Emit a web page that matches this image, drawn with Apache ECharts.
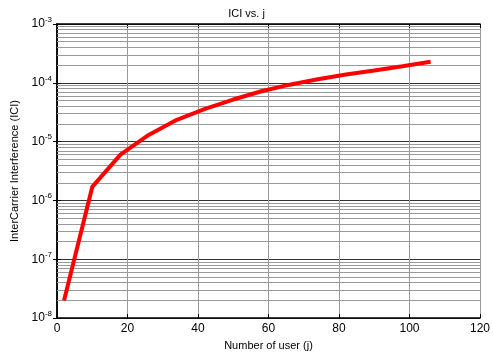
<!DOCTYPE html>
<html>
<head>
<meta charset="utf-8">
<script src="https://cdn.jsdelivr.net/npm/echarts@6/dist/echarts.min.js"></script>
<style>
  html, body { margin: 0; padding: 0; background: #fff; }
  #chart { width: 493px; height: 356px; }
</style>
</head>
<body>
<div id="chart"></div>
<script>
// number of users (j) and the ICI
var users = [2, 10, 18, 26, 34, 42, 50, 58, 66, 74, 82, 90, 98, 106];
var ici = [2e-8, 1.7e-6, 6e-6, 1.3e-5, 2.35e-5, 3.6e-5, 5.2e-5, 7.2e-5, 9.3e-5, 1.15e-4, 1.38e-4, 1.62e-4, 1.92e-4, 2.28e-4];
var xTicks = [0, 20, 40, 60, 80, 100, 120];
var decades = [-8, -7, -6, -5, -4, -3];

var font = 'Liberation Sans, Arial, sans-serif';

// minor grid lines at 2..9 x 10^n
var minorLines = [];
for (var d = 0; d < decades.length - 1; d++) {
  for (var k = 2; k <= 9; k++) {
    var v = k * Math.pow(10, decades[d]);
    minorLines.push([{ coord: [xTicks[0], v] }, { coord: [xTicks[xTicks.length - 1], v] }]);
  }
}

var chart = echarts.init(document.getElementById('chart'));

var option = {
  animation: false,
  backgroundColor: '#fff',
  title: {
    text: 'ICI vs. j',
    left: 'center',
    top: 3,
    textStyle: { fontFamily: font, fontSize: 11, fontWeight: 'normal', color: '#000' }
  },
  grid: { left: 57, right: 8, top: 24, bottom: 35 },
  xAxis: [{
    type: 'value',
    min: xTicks[0],
    max: xTicks[xTicks.length - 1],
    interval: 20,
    name: 'Number of user (j)',
    nameLocation: 'middle',
    nameGap: 18,
    nameTextStyle: { fontFamily: font, fontSize: 11, color: '#000' },
    axisLine: { onZero: false, lineStyle: { color: '#000', width: 1.5 } },
    axisTick: { inside: true, length: 4, lineStyle: { color: '#000' } },
    axisLabel: { fontFamily: font, fontSize: 12, color: '#000', margin: 5 },
    splitLine: { show: true, lineStyle: { color: '#999', width: 1 } }
  }, {
    type: 'value',
    position: 'top',
    min: xTicks[0],
    max: xTicks[xTicks.length - 1],
    interval: 20,
    axisLine: { show: true, lineStyle: { color: '#000', width: 1.5 } },
    axisTick: { inside: true, length: 4, lineStyle: { color: '#000' } },
    axisLabel: { show: false },
    splitLine: { show: false }
  }],
  yAxis: [{
    type: 'log',
    logBase: 10,
    min: Math.pow(10, decades[0]),
    max: Math.pow(10, decades[decades.length - 1]),
    name: 'InterCarrier Interference (ICI)',
    nameLocation: 'middle',
    nameGap: 25,
    nameTextStyle: { fontFamily: font, fontSize: 11, color: '#000' },
    axisLine: { lineStyle: { color: '#000', width: 1.5 } },
    axisTick: { inside: true, length: 4, lineStyle: { color: '#000' } },
    axisLabel: {
      margin: 5,
      formatter: function (v) {
        return '{b|10}{s|' + Math.round(Math.log10(v)) + '}';
      },
      rich: {
        b: { fontFamily: font, fontSize: 12, color: '#000' },
        s: { fontFamily: font, fontSize: 8, color: '#000', padding: [0, 0, 9, 0] }
      }
    },
    splitLine: { show: true, lineStyle: { color: '#333', width: 1 } }
  }, {
    type: 'log',
    logBase: 10,
    position: 'right',
    min: Math.pow(10, decades[0]),
    max: Math.pow(10, decades[decades.length - 1]),
    axisLine: { show: true, lineStyle: { color: '#000', width: 1.5 } },
    axisTick: { inside: true, length: 4, lineStyle: { color: '#000' } },
    axisLabel: { show: false },
    splitLine: { show: false }
  }],
  series: [{
    type: 'line',
    data: users.map(function (u, i) { return [u, ici[i]]; }),
    showSymbol: false,
    lineStyle: { color: '#ff0000', width: 4 },
    z: 5,
    markLine: {
      silent: true,
      symbol: 'none',
      animation: false,
      label: { show: false },
      lineStyle: { color: '#999', width: 1, type: 'solid' },
      data: minorLines
    }
  }]
};

chart.setOption(option);
</script>
</body>
</html>
